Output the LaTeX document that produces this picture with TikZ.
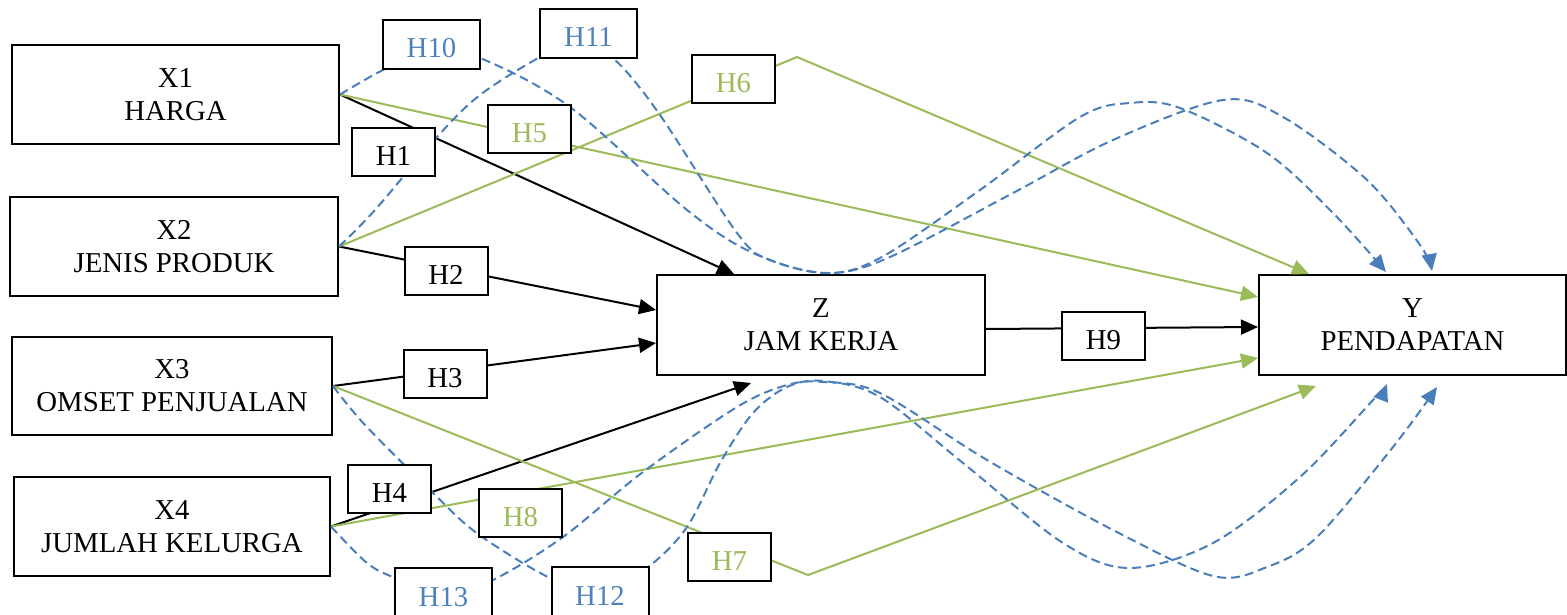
\documentclass[tikz,border=0pt]{standalone}
\usepackage{fontspec}
\setmainfont{Liberation Serif}
\usetikzlibrary{arrows.meta}
\definecolor{lblue}{HTML}{4A7EBB}
\definecolor{lgreen}{HTML}{9BBB59}
\definecolor{tblue}{HTML}{4F81BD}
\begin{document}
\begin{tikzpicture}[x=0.5pt,y=-0.5pt,
  var/.style={draw, line width=1pt, fill=white, inner sep=0pt, align=center,
    font=\fontsize{14.4}{16.5}\selectfont},
  hyp/.style={draw, line width=1pt, fill=white, inner sep=0pt, minimum height=24pt,
    text height=13.5pt, text depth=0pt, font=\fontsize{14.4}{16.5}\selectfont},
  hyptwo/.style={hyp, minimum width=41.5pt},
  hypthree/.style={hyp, minimum width=48.5pt, minimum height=24.5pt},
  blk/.style={line width=1pt, -{Triangle[length=8.5pt,width=7.5pt]}},
  grn/.style={draw=lgreen, line width=1pt, -{Triangle[length=8.5pt,width=7.5pt,fill=lgreen]}},
  blu/.style={draw=lblue, line width=1pt, dash pattern=on 4.5pt off 2.5pt,
    -{Triangle[length=8.5pt,width=7.5pt,fill=lblue]}},
]
\useasboundingbox (0,0) rectangle (1567,615);

% main variables
\node[var, minimum width=163.5pt, minimum height=49.5pt] (X1) at (175.5,94.5) {X1\\HARGA};
\node[var, minimum width=164pt, minimum height=49.5pt] (X2) at (174,246.5) {X2\\JENIS PRODUK};
\node[var, minimum width=160pt, minimum height=49pt] (X3) at (172,386) {X3\\OMSET PENJUALAN};
\node[var, minimum width=158pt, minimum height=49.5pt] (X4) at (172,526.5) {X4\\JUMLAH KELURGA};
\node[var, minimum width=164pt, minimum height=50pt] (Z) at (821,325) {Z\\JAM KERJA};
\node[var, minimum width=153.5pt, minimum height=50pt] (Y) at (1412.5,325) {Y\\PENDAPATAN};

\coordinate (g6) at (797,57);
\coordinate (g7) at (808,575);

% black paths
\draw[blk] (X1.east) -- ([xshift=39pt]Z.north west);
\draw[blk] (X2.east) -- ([yshift=7.5pt]Z.west);
\draw[blk] (X3.east) -- ([yshift=-9pt]Z.west);
\draw[blk] (X4.east) -- ([xshift=47.5pt,yshift=-3.5pt]Z.south west);
\draw[blk] ([yshift=-2pt]Z.east) -- ([yshift=-1pt]Y.west);

% green paths
\draw[grn] (X1.east) -- ([yshift=14pt]Y.west);
\draw[grn] (X2.east) -- (g6) -- ([xshift=25.5pt]Y.north west);
\draw[grn] (X3.east) -- (g7) -- ([xshift=29pt,yshift=-5pt]Y.south west);
\draw[grn] (X4.east) -- ([yshift=-16.5pt]Y.west);

% blue dashed paths
\draw[blu] plot[smooth, tension=0.55] coordinates {(X1.east) (383,70) (431,50) (480,58)
  (570,107) (687,210) (753,253) (823,273) (880,258) (980,190) (1080,117) (1130,103)
  (1180,108) (1267,153) (1333,213) ([xshift=64pt,yshift=1pt]Y.north west)};
\draw[blu] plot[smooth, tension=0.55] coordinates {(X2.east) (375,210) (437,137) (480,95)
  (540,57) (578,40) (615,60) (660,115) (737,233) (770,260) (830,273) (890,257)
  (1013,193) (1113,140) (1223,100) (1283,117) (1367,180) (1420,245)
  ([xshift=87pt,yshift=1.5pt]Y.north west)};
\draw[blu] plot[smooth, tension=0.55] coordinates {(X3.east) (365,425) (433,493) (478,534)
  (550,578) (600,592) (648,567) (687,527) (720,463) (753,413) (787,387) (823,381)
  (880,397) (963,463) (1063,543) (1130,568) (1213,543) (1300,477) (1373,400)
  ([xshift=64.5pt,yshift=-4pt]Y.south west)};
\draw[blu] plot[smooth, tension=0.55] coordinates {(X4.east) (367,563) (395,578) (443,596)
  (493,580) (563,537) (643,472) (737,407) (787,385) (823,382) (880,393) (987,460)
  (1113,530) (1213,576) (1267,567) (1317,537) (1393,447)
  ([xshift=89.5pt,yshift=-5.5pt]Y.south west)};

% hypothesis labels
\node[hyptwo] (H1) at (393.5,152) {H1};
\node[hyptwo] (H2) at (446,271) {H2};
\node[hyptwo] (H3) at (445,373.5) {H3};
\node[hyptwo] (H4) at (389.5,489) {H4};
\node[hyptwo, text=lgreen] (H5) at (529.5,129) {H5};
\node[hyptwo, text=lgreen] (H6) at (733.5,79) {H6};
\node[hyptwo, text=lgreen] (H7) at (729.5,556.5) {H7};
\node[hyptwo, text=lgreen] (H8) at (520.5,513) {H8};
\node[hyptwo] (H9) at (1103.5,336) {H9};
\node[hypthree, text=tblue] (H10) at (431.5,44.5) {H10};
\node[hypthree, text=tblue] (H11) at (588.5,33.5) {H11};
\node[hypthree, text=tblue] (H12) at (600,591.5) {H12};
\node[hypthree, text=tblue] (H13) at (443.5,592.5) {H13};
\end{tikzpicture}
\end{document}
